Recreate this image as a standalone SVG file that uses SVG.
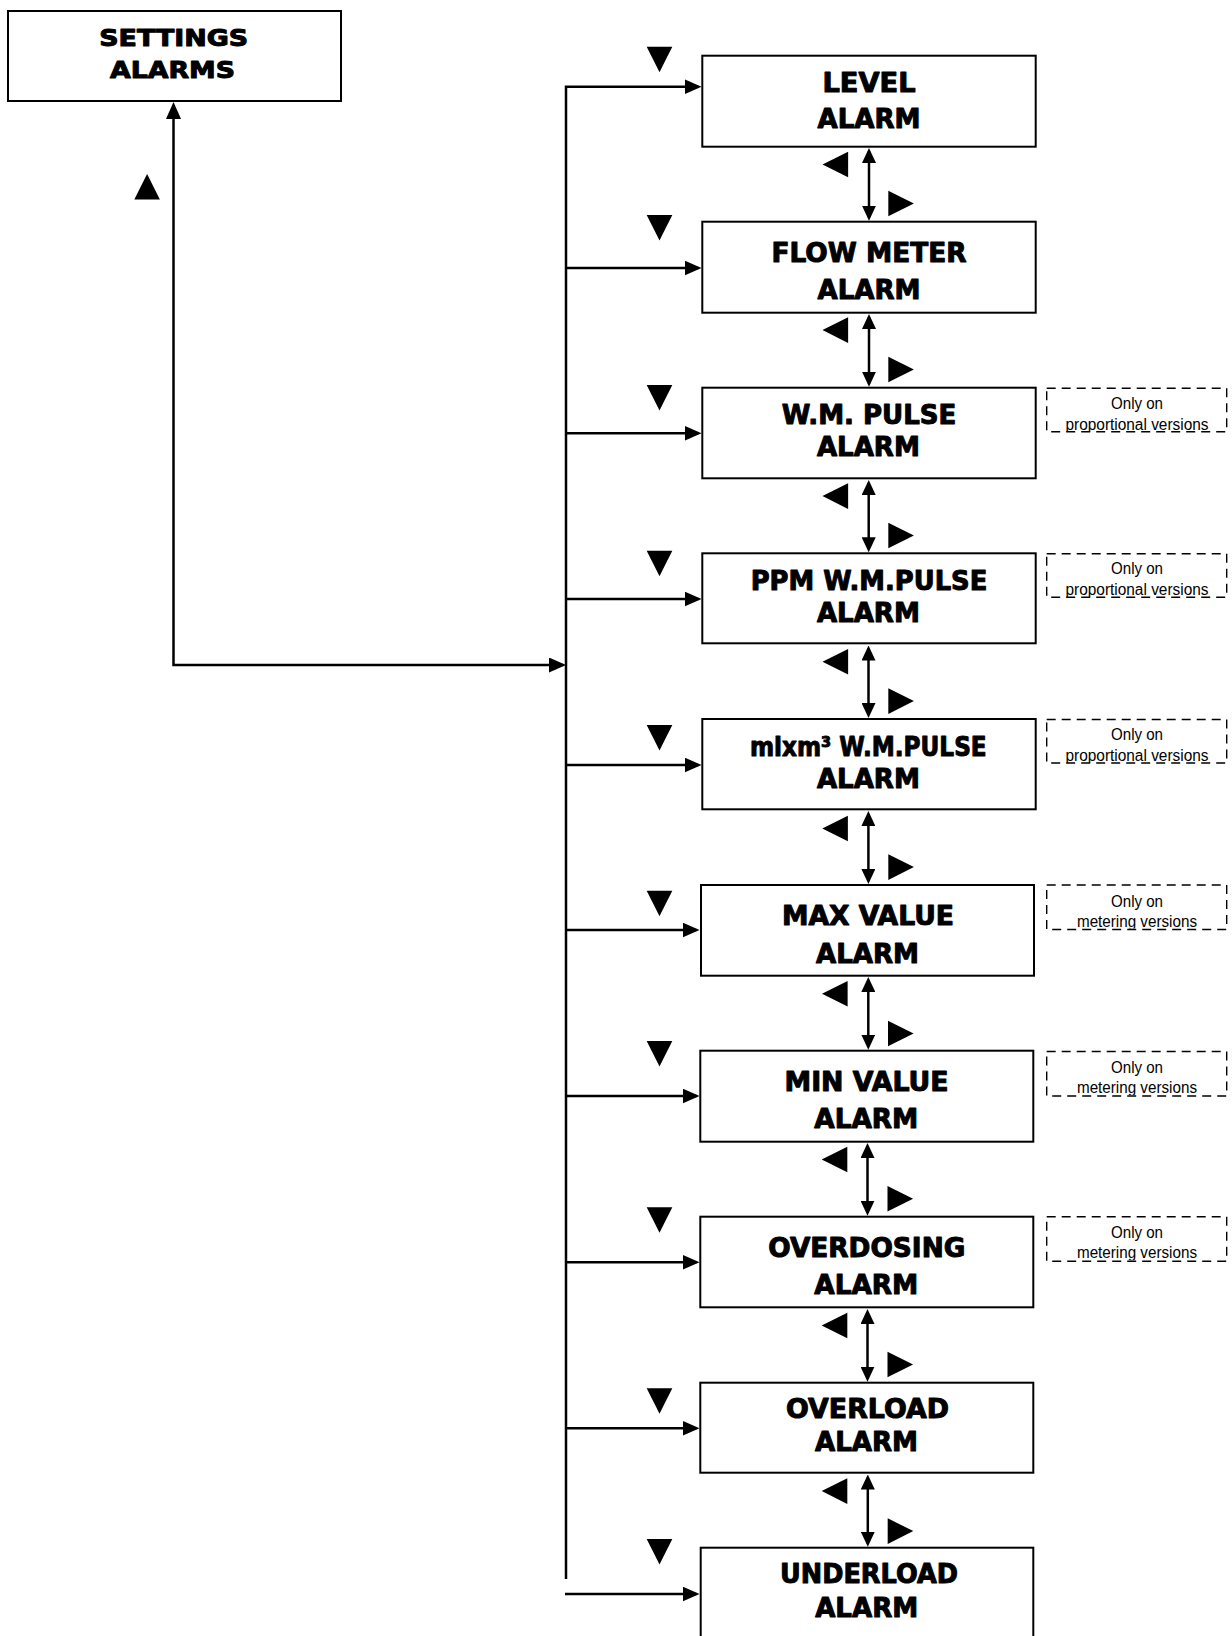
<svg xmlns="http://www.w3.org/2000/svg" width="1232" height="1636" viewBox="0 0 1232 1636">
<style>
.box{fill:#fff;stroke:#000;stroke-width:2}
.t{font-family:"DejaVu Sans","Liberation Sans",sans-serif;font-weight:bold;font-size:26px;text-anchor:middle;fill:#000;stroke:#000;stroke-width:1;stroke-linejoin:round}
.ts{font-size:23px}
.conn{fill:none;stroke:#000;stroke-width:2.5}
.tri{fill:#000}
.dash{fill:none;stroke:#000;stroke-width:1.4;stroke-dasharray:9 6}
.note{font-family:"Liberation Sans",Arial,sans-serif;font-size:16px;text-anchor:middle;fill:#000}
</style>
<defs>
<marker id="ah" markerUnits="userSpaceOnUse" markerWidth="17" markerHeight="15" viewBox="0 0 17 15" refX="14" refY="7.5" orient="auto-start-reverse"><path d="M0,0 L17,7.5 L0,15 z" fill="#000"/></marker>
<marker id="ah2" markerUnits="userSpaceOnUse" markerWidth="15" markerHeight="14" viewBox="0 0 15 14" refX="12" refY="7" orient="auto-start-reverse"><path d="M0,0 L15,7 L0,14 z" fill="#000"/></marker>
<polygon id="tdown" points="0,0 25.6,0 12.8,25.5"/>
<polygon id="tleft" points="0,12.8 25.6,0 25.6,25.6"/>
<polygon id="tright" points="0,0 25.6,12.8 0,25.6"/>
<polygon id="tup" points="0,25.6 12.8,0 25.6,25.6"/>
<clipPath id="nclip" clipPathUnits="userSpaceOnUse"><rect x="0" y="-2" width="180" height="45.5"/></clipPath>
</defs>

<g id="connectors">
<path class="conn" d="M173.5,105 V665 H563" marker-start="url(#ah)" marker-end="url(#ah)"/>
<path class="conn" d="M566,1579 V86.7 H698.5" marker-end="url(#ah)"/>
<path class="conn" d="M566,268 H698.5" marker-end="url(#ah)"/>
<path class="conn" d="M566,433.3 H698.5" marker-end="url(#ah)"/>
<path class="conn" d="M566,599 H698.5" marker-end="url(#ah)"/>
<path class="conn" d="M566,765 H698.5" marker-end="url(#ah)"/>
<path class="conn" d="M566,930 H696.5" marker-end="url(#ah)"/>
<path class="conn" d="M566,1096 H696.5" marker-end="url(#ah)"/>
<path class="conn" d="M566,1262.3 H696.5" marker-end="url(#ah)"/>
<path class="conn" d="M566,1428.3 H696.5" marker-end="url(#ah)"/>
<path class="conn" d="M565,1594 H696.5" marker-end="url(#ah)"/>
<path class="conn" d="M869,151 V217.7" marker-start="url(#ah2)" marker-end="url(#ah2)"/>
<path class="conn" d="M869,317 V383.7" marker-start="url(#ah2)" marker-end="url(#ah2)"/>
<path class="conn" d="M868.7,483 V549.3" marker-start="url(#ah2)" marker-end="url(#ah2)"/>
<path class="conn" d="M868.5,648.5 V715" marker-start="url(#ah2)" marker-end="url(#ah2)"/>
<path class="conn" d="M868.4,814 V881" marker-start="url(#ah2)" marker-end="url(#ah2)"/>
<path class="conn" d="M868.3,980 V1046.7" marker-start="url(#ah2)" marker-end="url(#ah2)"/>
<path class="conn" d="M867.5,1146 V1212.7" marker-start="url(#ah2)" marker-end="url(#ah2)"/>
<path class="conn" d="M867.5,1312 V1378.7" marker-start="url(#ah2)" marker-end="url(#ah2)"/>
<path class="conn" d="M867.8,1477.5 V1543.7" marker-start="url(#ah2)" marker-end="url(#ah2)"/>
</g>

<g id="keys" class="tri">
<use href="#tup" x="134.3" y="174"/>
<use href="#tdown" x="646.7" y="46.7"/>
<use href="#tdown" x="646.7" y="215"/>
<use href="#tdown" x="646.7" y="385"/>
<use href="#tdown" x="646.7" y="550.7"/>
<use href="#tdown" x="646.7" y="725"/>
<use href="#tdown" x="646.7" y="890.7"/>
<use href="#tdown" x="646.7" y="1041"/>
<use href="#tdown" x="646.7" y="1207.3"/>
<use href="#tdown" x="646.7" y="1388.3"/>
<use href="#tdown" x="646.7" y="1539"/>
<use href="#tleft" x="822.5" y="151.7"/>
<use href="#tleft" x="822.5" y="317.3"/>
<use href="#tleft" x="822.5" y="483.3"/>
<use href="#tleft" x="822.5" y="649"/>
<use href="#tleft" x="822.3" y="815.7"/>
<use href="#tleft" x="822" y="981"/>
<use href="#tleft" x="821.7" y="1146.7"/>
<use href="#tleft" x="821.7" y="1312.7"/>
<use href="#tleft" x="821.7" y="1478.3"/>
<use href="#tright" x="888.3" y="190.7"/>
<use href="#tright" x="888.3" y="356.7"/>
<use href="#tright" x="888.3" y="522.7"/>
<use href="#tright" x="888.3" y="688.3"/>
<use href="#tright" x="888.3" y="854.3"/>
<use href="#tright" x="888" y="1020.7"/>
<use href="#tright" x="887.5" y="1186"/>
<use href="#tright" x="887.5" y="1351.7"/>
<use href="#tright" x="887.7" y="1518.3"/>
</g>

<g id="n-settings">
<rect class="box" x="8" y="11" width="333" height="90"/>
<text class="t ts" x="173.7" y="46" textLength="149" lengthAdjust="spacingAndGlyphs">SETTINGS</text>
<text class="t ts" x="172.5" y="78.3" textLength="125" lengthAdjust="spacingAndGlyphs">ALARMS</text>
</g>
<g id="n-level">
<rect class="box" x="702.3" y="55.7" width="333.4" height="91"/>
<text class="t" x="869" y="92.3" textLength="93" lengthAdjust="spacingAndGlyphs">LEVEL</text>
<text class="t" x="869" y="128.3" textLength="103" lengthAdjust="spacingAndGlyphs">ALARM</text>
</g>
<g id="n-flow">
<rect class="box" x="702.3" y="221.7" width="333.4" height="91"/>
<text class="t" x="869" y="262.3" textLength="195" lengthAdjust="spacingAndGlyphs">FLOW METER</text>
<text class="t" x="869" y="299.3" textLength="103" lengthAdjust="spacingAndGlyphs">ALARM</text>
</g>
<g id="n-wm">
<rect class="box" x="702.3" y="387.7" width="333.4" height="90.6"/>
<text class="t" x="869" y="424" textLength="174.6" lengthAdjust="spacingAndGlyphs">W.M. PULSE</text>
<text class="t" x="868.4" y="455.7" textLength="103" lengthAdjust="spacingAndGlyphs">ALARM</text>
</g>
<g id="n-ppm">
<rect class="box" x="702.3" y="553.3" width="333.4" height="90"/>
<text class="t" x="869" y="590" textLength="236.6" lengthAdjust="spacingAndGlyphs">PPM W.M.PULSE</text>
<text class="t" x="868.4" y="621.7" textLength="103" lengthAdjust="spacingAndGlyphs">ALARM</text>
</g>
<g id="n-mlxm">
<rect class="box" x="702.3" y="719" width="333.4" height="90.3"/>
<text class="t" x="868.3" y="755.7" textLength="236.7" lengthAdjust="spacingAndGlyphs">mlxm³ W.M.PULSE</text>
<text class="t" x="868.4" y="787.7" textLength="103" lengthAdjust="spacingAndGlyphs">ALARM</text>
</g>
<g id="n-max">
<rect class="box" x="701" y="885" width="333" height="90.7"/>
<text class="t" x="868" y="925.3" textLength="172" lengthAdjust="spacingAndGlyphs">MAX VALUE</text>
<text class="t" x="867.5" y="962.7" textLength="103" lengthAdjust="spacingAndGlyphs">ALARM</text>
</g>
<g id="n-min">
<rect class="box" x="700.3" y="1050.7" width="333" height="91"/>
<text class="t" x="866.5" y="1090.7" textLength="164" lengthAdjust="spacingAndGlyphs">MIN VALUE</text>
<text class="t" x="866.3" y="1127.7" textLength="104" lengthAdjust="spacingAndGlyphs">ALARM</text>
</g>
<g id="n-overdosing">
<rect class="box" x="700.3" y="1216.7" width="333" height="90.6"/>
<text class="t" x="866.8" y="1256.7" textLength="197" lengthAdjust="spacingAndGlyphs">OVERDOSING</text>
<text class="t" x="866.3" y="1294" textLength="104" lengthAdjust="spacingAndGlyphs">ALARM</text>
</g>
<g id="n-overload">
<rect class="box" x="700.3" y="1382.7" width="333" height="90"/>
<text class="t" x="867.5" y="1418.3" textLength="163" lengthAdjust="spacingAndGlyphs">OVERLOAD</text>
<text class="t" x="866.5" y="1450.7" textLength="103" lengthAdjust="spacingAndGlyphs">ALARM</text>
</g>
<g id="n-underload">
<rect class="box" x="700.7" y="1547.7" width="332.6" height="92"/>
<text class="t" x="869" y="1583.3" textLength="178" lengthAdjust="spacingAndGlyphs">UNDERLOAD</text>
<text class="t" x="866.7" y="1616.7" textLength="103" lengthAdjust="spacingAndGlyphs">ALARM</text>
</g>

<g id="notes">
<g id="note-wm" transform="translate(1046.7,388.3)">
<g clip-path="url(#nclip)"><text class="note" x="90.3" y="20.5" textLength="52" lengthAdjust="spacingAndGlyphs">Only on</text><text class="note" x="90.3" y="41.7" textLength="143" lengthAdjust="spacingAndGlyphs">proportional versions</text></g>
<rect class="dash" x="0" y="0" width="180" height="43.5"/>
</g>
<g id="note-ppm" transform="translate(1046.7,553.8)">
<g clip-path="url(#nclip)"><text class="note" x="90.3" y="20.5" textLength="52" lengthAdjust="spacingAndGlyphs">Only on</text><text class="note" x="90.3" y="41.7" textLength="143" lengthAdjust="spacingAndGlyphs">proportional versions</text></g>
<rect class="dash" x="0" y="0" width="180" height="43.5"/>
</g>
<g id="note-mlxm" transform="translate(1046.7,719.5)">
<g clip-path="url(#nclip)"><text class="note" x="90.3" y="20.5" textLength="52" lengthAdjust="spacingAndGlyphs">Only on</text><text class="note" x="90.3" y="41.7" textLength="143" lengthAdjust="spacingAndGlyphs">proportional versions</text></g>
<rect class="dash" x="0" y="0" width="180" height="43.5"/>
</g>
<g id="note-max" transform="translate(1046.7,885)">
<g clip-path="url(#nclip)"><text class="note" x="90.3" y="21.7" textLength="52" lengthAdjust="spacingAndGlyphs">Only on</text><text class="note" x="90.3" y="41.7" textLength="120" lengthAdjust="spacingAndGlyphs">metering versions</text></g>
<rect class="dash" x="0" y="0" width="180" height="44.5"/>
</g>
<g id="note-min" transform="translate(1046.7,1051.5)">
<g clip-path="url(#nclip)"><text class="note" x="90.3" y="21.7" textLength="52" lengthAdjust="spacingAndGlyphs">Only on</text><text class="note" x="90.3" y="41.7" textLength="120" lengthAdjust="spacingAndGlyphs">metering versions</text></g>
<rect class="dash" x="0" y="0" width="180" height="44.5"/>
</g>
<g id="note-overdosing" transform="translate(1046.7,1216.7)">
<g clip-path="url(#nclip)"><text class="note" x="90.3" y="21.7" textLength="52" lengthAdjust="spacingAndGlyphs">Only on</text><text class="note" x="90.3" y="41.7" textLength="120" lengthAdjust="spacingAndGlyphs">metering versions</text></g>
<rect class="dash" x="0" y="0" width="180" height="44.5"/>
</g>
</g>
</svg>
